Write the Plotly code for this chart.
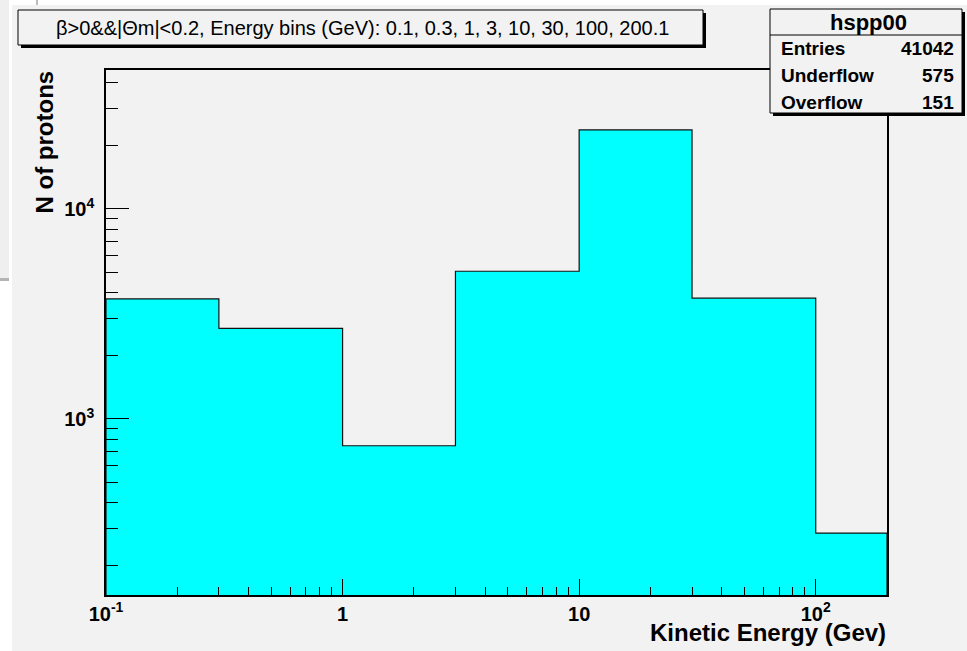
import math
import plotly.graph_objects as go

# ---------------- data ----------------
bin_edges = [0.1, 0.3, 1, 3, 10, 30, 100, 200.1]
bin_counts = [3730, 2700, 745, 5050, 23800, 3760, 286]
hist_name = "hspp00"
stat_labels = ["Entries", "Underflow", "Overflow"]
stat_values = [41042, 575, 151]
title_text = "β>0&&|Θm|<0.2, Energy bins (GeV): 0.1, 0.3, 1, 3, 10, 30, 100, 200.1"
x_tickvals = [0.1, 1, 10, 100]
x_ticktext = ["10<sup>-1</sup>", "1", "10", "10<sup>2</sup>"]
y_tickvals = [1e3, 1e4]
y_ticktext = ["10<sup>3</sup>", "10<sup>4</sup>"]
x_title = "Kinetic Energy (Gev)"
y_title = "N of protons"
y_range = [145, 45900]

# ---------------- layout geometry ----------------
W, H = 967, 651
L, R, T, B = 106, 887, 70, 595
FONT = "Liberation Sans"


def px(x):
    return (x - L) / (R - L)


def py(y):
    return (B - y) / (B - T)


# histogram outline polygon built from edges / counts
floor = y_range[0] / 10
xs = [bin_edges[0]]
ys = [floor]
for i, c in enumerate(bin_counts):
    xs += [bin_edges[i], bin_edges[i + 1]]
    ys += [c, c]
xs.append(bin_edges[-1])
ys.append(floor)

x_minor = [m * 10 ** e for e in range(-1, 3) for m in range(2, 10) if m * 10 ** e <= bin_edges[-1]]
y_minor = [m * 10 ** e for e in range(2, 5) for m in range(2, 10)
           if y_range[0] <= m * 10 ** e <= y_range[1]]

fig = go.Figure()
fig.add_trace(go.Scatter(
    x=xs, y=ys, mode="lines", fill="toself", fillcolor="#00ffff",
    line=dict(color="#111111", width=1.2), hoverinfo="skip", showlegend=False,
))

fig.update_layout(
    width=W, height=H, autosize=False,
    margin=dict(l=L, r=W - R, t=T, b=H - B, pad=0),
    paper_bgcolor="white", plot_bgcolor="rgba(0,0,0,0)",
    showlegend=False,
)

fig.update_xaxes(
    type="log", range=[math.log10(bin_edges[0]), math.log10(bin_edges[-1])],
    showgrid=False, zeroline=False,
    showline=True, mirror=True, linecolor="black", linewidth=1.5,
    ticks="inside", ticklen=16, tickwidth=1, tickcolor="black",
    tickmode="array", tickvals=x_tickvals, ticktext=x_ticktext,
    tickfont=dict(family=FONT, size=20, color="black", weight="bold"),
    ticklabelstandoff=0,
    minor=dict(tickmode="array", tickvals=x_minor, ticks="inside", ticklen=8,
               tickwidth=1, tickcolor="black", showgrid=False),
)
fig.update_yaxes(
    type="log", range=[math.log10(y_range[0]), math.log10(y_range[1])],
    showgrid=False, zeroline=False,
    showline=True, mirror=True, linecolor="black", linewidth=1.5,
    ticks="inside", ticklen=23, tickwidth=1, tickcolor="black",
    tickmode="array", tickvals=y_tickvals, ticktext=y_ticktext,
    tickfont=dict(family=FONT, size=20, color="black", weight="bold"),
    ticklabelstandoff=6,
    minor=dict(tickmode="array", tickvals=y_minor, ticks="inside", ticklen=12,
               tickwidth=1, tickcolor="black", showgrid=False),
)


def rect(x0, y0, x1, y1, fill, line_color=None, lw=0, layer="above"):
    return dict(type="rect", xref="paper", yref="paper",
                x0=px(x0), x1=px(x1), y0=py(y1), y1=py(y0),
                fillcolor=fill, layer=layer,
                line=dict(color=line_color or fill, width=lw))


shapes = [
    # canvas and window background
    rect(12, 5, W, H, "#f2f2f2", layer="below"),
    rect(0, 0, 9, 278, "#efefef", layer="below"),
    rect(0, 278, 9, 281, "#b4b4b4", layer="below"),
    dict(type="line", xref="paper", yref="paper", x0=px(37), x1=px(37), y0=py(0), y1=py(5),
         line=dict(color="#bbbbbb", width=2), layer="below"),
    # title box
    rect(21, 13, 706, 48, "black"),
    rect(18, 10, 703, 45, "#f2f2f2", "black", 1),
    # stats box
    rect(773, 12, 965, 116, "black"),
    rect(770, 9, 962, 113, "#f2f2f2", "black", 1),
    dict(type="line", xref="paper", yref="paper", x0=px(770), x1=px(962), y0=py(35), y1=py(35),
         line=dict(color="black", width=1), layer="above"),
]
fig.update_layout(shapes=shapes)

ann = []
ann.append(dict(text=title_text, x=px(362), y=py(28), xanchor="center", yanchor="middle",
                font=dict(family=FONT, size=20, color="black")))
ann.append(dict(text=hist_name, x=px(868), y=py(22), xanchor="center", yanchor="middle",
                font=dict(family=FONT, size=22, color="black", weight="bold")))
for i, (lab, val) in enumerate(zip(stat_labels, stat_values)):
    yy = 49 + i * 26.5
    ann.append(dict(text=lab, x=px(779), y=py(yy), xanchor="left", yanchor="middle",
                    font=dict(family=FONT, size=19, color="black", weight="bold")))
    ann.append(dict(text=str(val), x=px(956), y=py(yy), xanchor="right", yanchor="middle",
                    font=dict(family=FONT, size=19, color="black", weight="bold")))
ann.append(dict(text=x_title, x=px(888), y=py(632), xanchor="right", yanchor="middle",
                font=dict(family=FONT, size=24, color="black", weight="bold")))
ann.append(dict(text=y_title, x=px(44), y=py(69), xanchor="center", yanchor="top", textangle=-90,
                font=dict(family=FONT, size=24, color="black", weight="bold")))
for a in ann:
    a.update(xref="paper", yref="paper", showarrow=False)
fig.update_layout(annotations=ann)

fig.write_html("out.html", config={"displayModeBar": False},
               post_script="document.body.style.margin='0';")
